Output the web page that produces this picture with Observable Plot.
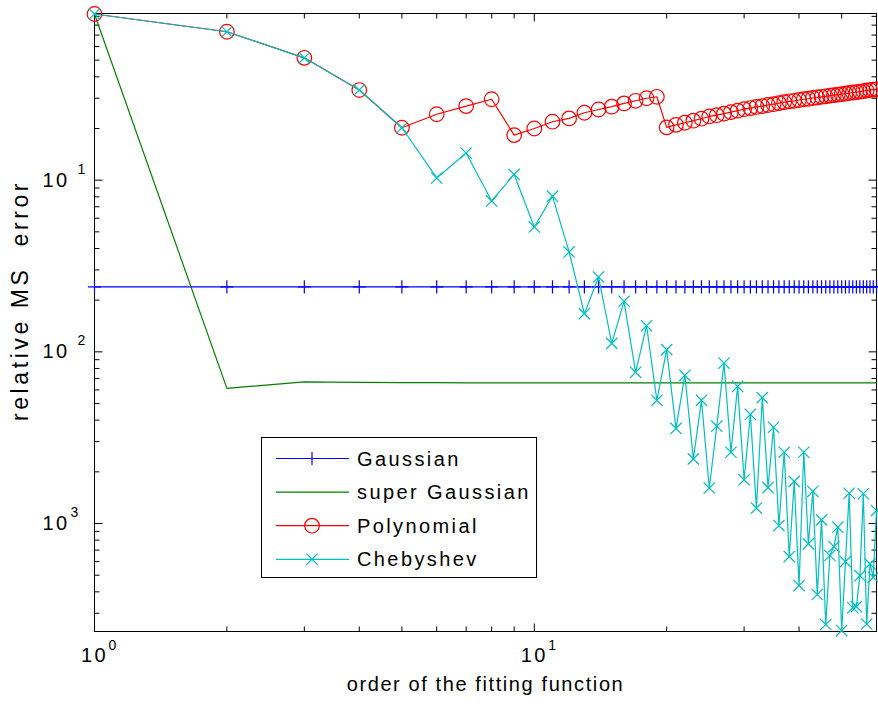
<!DOCTYPE html>
<html>
<head>
<meta charset="utf-8">
<script src="https://cdn.jsdelivr.net/npm/d3@7"></script>
<script src="https://cdn.jsdelivr.net/npm/@observablehq/plot@0.6"></script>
<style>
  html, body { margin: 0; padding: 0; background: #fff; }
  #wrap { position: relative; width: 878px; height: 707px; overflow: hidden; }
  #wrap svg text { letter-spacing: 2.4px; }
  #legend { position: absolute; left: 261px; top: 437px; }
</style>
</head>
<body>
<div id="wrap"></div>
<script>
// ---- data (x = order, y = relative MS error) ----
const orders = [1,2,3,4,5,6,7,8,9,10,11,12,13,14,15,16,17,18,19,20,
  21,22,23,24,25,26,27,28,29,30,31,32,33,34,35,36,37,38,39,40,
  41,42,43,44,45,46,47,48,49,50,51,52,53,54,55,56,57,58,59,60];

const gaussian = [0.0239,0.0239,0.0239,0.0239,0.0239,0.0239,0.0239,0.0239,0.0239,0.0239,
  0.0239,0.0239,0.0239,0.0239,0.0239,0.0239,0.0239,0.0239,0.0239,0.0239,
  0.0239,0.0239,0.0239,0.0239,0.0239,0.0239,0.0239,0.0239,0.0239,0.0239,
  0.0239,0.0239,0.0239,0.0239,0.0239,0.0239,0.0239,0.0239,0.0239,0.0239,
  0.0239,0.0239,0.0239,0.0239,0.0239,0.0239,0.0239,0.0239,0.0239,0.0239,
  0.0239,0.0239,0.0239,0.0239,0.0239,0.0239,0.0239,0.0239,0.0239,0.0239];

const superGaussian = [0.929,0.00613,0.00668,0.00664,0.00662,0.00661,0.0066,0.0066,0.0066,0.0066,
  0.0066,0.0066,0.0066,0.0066,0.0066,0.0066,0.0066,0.0066,0.0066,0.0066,
  0.0066,0.0066,0.0066,0.0066,0.0066,0.0066,0.0066,0.0066,0.0066,0.0066,
  0.0066,0.0066,0.0066,0.0066,0.0066,0.0066,0.0066,0.0066,0.0066,0.0066,
  0.0066,0.0066,0.0066,0.0066,0.0066,0.0066,0.0066,0.0066,0.0066,0.0066,
  0.0066,0.0066,0.0066,0.0066,0.0066,0.0066,0.0066,0.0066,0.0066,0.0066];

const polynomial = [0.929,0.732,0.516,0.335,0.202,0.242,0.270,0.296,0.183,0.200,
  0.219,0.229,0.247,0.258,0.268,0.280,0.290,0.300,0.306,0.203,
  0.210,0.216,0.222,0.228,0.235,0.239,0.244,0.249,0.254,0.259,
  0.263,0.267,0.270,0.274,0.277,0.281,0.285,0.288,0.290,0.293,
  0.296,0.298,0.301,0.303,0.306,0.308,0.311,0.313,0.315,0.317,
  0.319,0.322,0.324,0.326,0.328,0.330,0.333,0.335,0.337,0.338];

const chebyshev = [0.929,0.732,0.516,0.335,0.202,0.103,0.144,0.0757,0.108,0.0534,
  0.0807,0.0382,0.0167,0.0273,0.0112,0.0197,0.0076,0.0142,0.00522,0.0103,
  0.00358,0.0073,0.00238,0.00522,0.00161,0.00369,0.0086,0.0026,0.00629,0.0018,
  0.00432,0.00123,0.00541,0.00162,0.00364,0.000973,0.0026,0.000642,0.00176,0.000435,
  0.0026,0.000761,0.00154,0.000386,0.00105,0.000258,0.000651,0.000734,0.000952,0.000238,
  0.0006,0.0015,0.000323,0.000328,0.000497,0.00149,0.00026,0.000582,0.000486,0.00119];

const seriesNames = ["Gaussian", "super Gaussian", "Polynomial", "Chebyshev"];

const xMajorTicks = [1, 10];
const xMinorTicks = [2,3,4,5,6,7,8,9,20,30,40,50];
const yMajorTicks = [0.1, 0.01, 0.001];
const yMinorTicks = [0.9,0.8,0.7,0.6,0.5,0.4,0.3,0.2,
  0.09,0.08,0.07,0.06,0.05,0.04,0.03,0.02,
  0.009,0.008,0.007,0.006,0.005,0.004,0.003,0.002,
  0.0009,0.0008,0.0007,0.0006,0.0005,0.0004,0.0003];
const xTickBase = "10";
const xTickExps = ["0", "1"];
const yTickExps = ["1", "2", "3"];
const xLabel = "order of the fitting function";
const yLabel = "relative MS\u00a0 error";

// ---- build ----
const rows = vals => orders.map((x, i) => ({x, y: vals[i]}));
const tickSym = (dx, dy) => ({draw(ctx) { ctx.moveTo(0, 0); ctx.lineTo(dx, dy); }});
const MAJ = 8, MIN = 5;

const colors = {g: "#0000ff", sg: "#008000", p: "#ff0000", c: "#00bfbf"};
const font = "'Liberation Sans', Arial, Helvetica, sans-serif";
const LW = 1.2;
const R = {plus: 4.3, circle: 7.3, times: 5.2};

function tickMarks(vals, len) {
  return [
    Plot.dot(vals, {x: d => d, frameAnchor: "bottom", symbol: tickSym(0, -len), stroke: "black", fill: "none", strokeWidth: 1}),
    Plot.dot(vals, {x: d => d, frameAnchor: "top", symbol: tickSym(0, len), stroke: "black", fill: "none", strokeWidth: 1})
  ];
}
function yTickMarks(vals, len) {
  return [
    Plot.dot(vals, {y: d => d, frameAnchor: "left", symbol: tickSym(len, 0), stroke: "black", fill: "none", strokeWidth: 1}),
    Plot.dot(vals, {y: d => d, frameAnchor: "right", symbol: tickSym(-len, 0), stroke: "black", fill: "none", strokeWidth: 1})
  ];
}

const chart = Plot.plot({
  width: 878,
  height: 707,
  marginLeft: 94,
  marginRight: 2,
  marginTop: 13,
  marginBottom: 76,
  x: {type: "log", domain: [1, 60], axis: null},
  y: {type: "log", domain: [0.000235, 0.935], axis: null},
  style: {fontFamily: font, fontSize: "20px", color: "black", background: "white", overflow: "visible"},
  marks: [
    Plot.frame({stroke: "black", strokeWidth: 1}),
    ...tickMarks(xMinorTicks, MIN),
    ...tickMarks(xMajorTicks, MAJ),
    ...yTickMarks(yMinorTicks, MIN),
    ...yTickMarks(yMajorTicks, MAJ),
    // x tick labels
    Plot.text(xMajorTicks, {x: d => d, frameAnchor: "bottom", text: () => xTickBase, dy: 30, fontSize: 20, fill: "black"}),
    Plot.text(xMajorTicks, {x: d => d, frameAnchor: "bottom", text: (d, i) => xTickExps[i], dx: 14, dy: 18, textAnchor: "start", fontSize: 14, fill: "black"}),
    // y tick labels
    Plot.text(yMajorTicks, {y: d => d, frameAnchor: "left", text: () => xTickBase, dx: -25, textAnchor: "end", fontSize: 20, fill: "black"}),
    Plot.text(yMajorTicks.slice(0, 2), {y: d => d, frameAnchor: "left", text: (d, i) => yTickExps[i], dx: -17, dy: -11, textAnchor: "start", fontSize: 14, fill: "black"}),
    Plot.text(yMajorTicks.slice(2), {y: d => d, frameAnchor: "left", text: () => yTickExps[2], dx: -24, dy: -11, textAnchor: "start", fontSize: 14, fill: "black"}),
    // axis labels
    Plot.text([xLabel], {frameAnchor: "bottom", dy: 59, textAnchor: "middle", fontSize: 20, fill: "black", text: d => d}),
    Plot.text([yLabel], {frameAnchor: "left", dx: -74, dy: -22, textAnchor: "middle", rotate: -90, fontSize: 23, fill: "black", text: d => d}),
    // series
    Plot.line(rows(gaussian), {x: "x", y: "y", stroke: colors.g, strokeWidth: LW}),
    Plot.dot(rows(gaussian), {x: "x", y: "y", symbol: "plus", r: R.plus, stroke: colors.g, fill: "none", strokeWidth: LW}),
    Plot.line(rows(superGaussian), {x: "x", y: "y", stroke: colors.sg, strokeWidth: LW}),
    Plot.line(rows(polynomial), {x: "x", y: "y", stroke: colors.p, strokeWidth: LW}),
    Plot.dot(rows(polynomial), {x: "x", y: "y", symbol: "circle", r: R.circle, stroke: colors.p, fill: "none", strokeWidth: LW}),
    Plot.line(rows(chebyshev), {x: "x", y: "y", stroke: colors.c, strokeWidth: LW}),
    Plot.dot(rows(chebyshev), {x: "x", y: "y", symbol: "times", r: R.times, stroke: colors.c, fill: "none", strokeWidth: LW})
  ]
});

// per-label letter spacing (the reference's text is loosely spaced)
d3.select(chart).selectAll("text").filter(function() { return this.textContent === xLabel; })
  .style("letter-spacing", "1.6px");
d3.select(chart).selectAll("text").filter(function() { return this.textContent === yLabel; })
  .style("letter-spacing", "3.6px");

const wrap = document.getElementById("wrap");
wrap.appendChild(chart);

// ---- legend (inside the axes, lower middle) ----
const lw = 276, lh = 141;
const leg = d3.create("svg").attr("id", "legend").attr("width", lw).attr("height", lh)
  .style("font-family", font).style("font-size", "20px");
leg.append("rect").attr("x", 0.5).attr("y", 0.5).attr("width", lw - 1).attr("height", lh - 1)
  .attr("fill", "white").attr("stroke", "black").attr("stroke-width", 1);
const legColors = [colors.g, colors.sg, colors.p, colors.c];
const legSymbols = [d3.symbol(d3.symbolPlus, Math.PI * R.plus * R.plus), null,
  d3.symbol(d3.symbolCircle, Math.PI * R.circle * R.circle), d3.symbol(d3.symbolTimes, Math.PI * R.times * R.times)];
seriesNames.forEach((name, i) => {
  const cy = 21.5 + 33.6 * i;
  const g = leg.append("g").attr("transform", `translate(0,${cy})`);
  g.append("line").attr("x1", 15).attr("x2", 88).attr("y1", 0).attr("y2", 0)
    .attr("stroke", legColors[i]).attr("stroke-width", LW);
  if (legSymbols[i]) g.append("path").attr("d", legSymbols[i]()).attr("transform", "translate(51,0)")
    .attr("fill", "none").attr("stroke", legColors[i]).attr("stroke-width", LW);
  g.append("text").attr("x", 96).attr("y", 0).attr("dy", "0.35em").attr("fill", "black")
    .style("letter-spacing", "2.4px").text(name);
});
wrap.appendChild(leg.node());
</script>
</body>
</html>
